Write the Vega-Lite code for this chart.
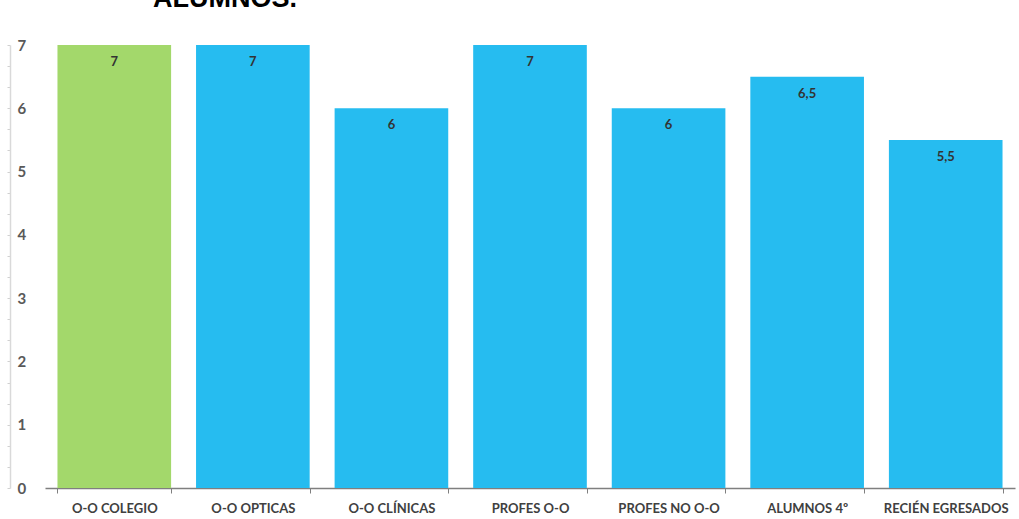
{
  "$schema": "https://vega.github.io/schema/vega-lite/v6.json",
  "width": 970,
  "height": 443,
  "autosize": {"type": "none"},
  "padding": {"top": 45, "left": 45, "right": 4, "bottom": 31},
  "background": "#ffffff",
  "title": {
    "text": "ALUMNOS.",
    "anchor": "start",
    "frame": "group",
    "font": "Liberation Sans",
    "fontSize": 27,
    "fontWeight": "bold",
    "color": "#000000",
    "dx": 108,
    "offset": 0,
    "baseline": "alphabetic",
    "dy": -4
  },
  "data": {
    "values": [
      {"grupo": "O-O COLEGIO", "valor": 7, "etiqueta": "7", "tipo": "colegio"},
      {"grupo": "O-O OPTICAS", "valor": 7, "etiqueta": "7", "tipo": "otros"},
      {"grupo": "O-O CLÍNICAS", "valor": 6, "etiqueta": "6", "tipo": "otros"},
      {"grupo": "PROFES O-O", "valor": 7, "etiqueta": "7", "tipo": "otros"},
      {"grupo": "PROFES NO O-O", "valor": 6, "etiqueta": "6", "tipo": "otros"},
      {"grupo": "ALUMNOS 4º", "valor": 6.5, "etiqueta": "6,5", "tipo": "otros"},
      {"grupo": "RECIÉN EGRESADOS", "valor": 5.5, "etiqueta": "5,5", "tipo": "otros"}
    ]
  },
  "encoding": {
    "x": {
      "field": "grupo",
      "type": "nominal",
      "sort": null,
      "scale": {"paddingInner": 0.18, "paddingOuter": 0.09},
      "axis": {
        "title": null,
        "labelAngle": 0,
        "labelFont": "Lato",
        "labelFontSize": 13,
        "labelFontWeight": "bold",
        "labelColor": "#404040",
        "labelPadding": 9,
        "tickBand": "extent",
        "ticks": true,
        "tickSize": 5,
        "tickColor": "#7f7f7f",
        "domainColor": "#7f7f7f",
        "domainWidth": 1.5,
        "grid": false
      }
    },
    "y": {
      "field": "valor",
      "type": "quantitative",
      "scale": {"domain": [0, 7], "nice": false},
      "axis": {
        "title": null,
        "offset": 35,
        "values": [0, 0.3333, 0.6667, 1, 1.3333, 1.6667, 2, 2.3333, 2.6667, 3, 3.3333, 3.6667, 4, 4.3333, 4.6667, 5, 5.3333, 5.6667, 6, 6.3333, 6.6667, 7],
        "labelExpr": "datum.value % 1 == 0 ? format(datum.value, 'd') : ''",
        "labelAlign": "left",
        "labelPadding": -10,
        "labelFont": "Lato",
        "labelFontSize": 15,
        "labelFontWeight": "bold",
        "labelColor": "#595959",
        "tickSize": 3,
        "tickColor": "#d0d0d0",
        "domainColor": "#d9d9d9",
        "domainWidth": 1.5,
        "grid": false
      }
    }
  },
  "layer": [
    {
      "mark": {"type": "bar"},
      "encoding": {
        "color": {
          "field": "tipo",
          "type": "nominal",
          "scale": {"domain": ["colegio", "otros"], "range": ["#A3D86B", "#26BCF0"]},
          "legend": null
        }
      }
    },
    {
      "mark": {
        "type": "text",
        "baseline": "middle",
        "dy": 17,
        "font": "Lato",
        "fontSize": 13,
        "fontWeight": "bold",
        "color": "#333333"
      },
      "encoding": {
        "text": {"field": "etiqueta"}
      }
    }
  ],
  "config": {"view": {"stroke": null}}
}
